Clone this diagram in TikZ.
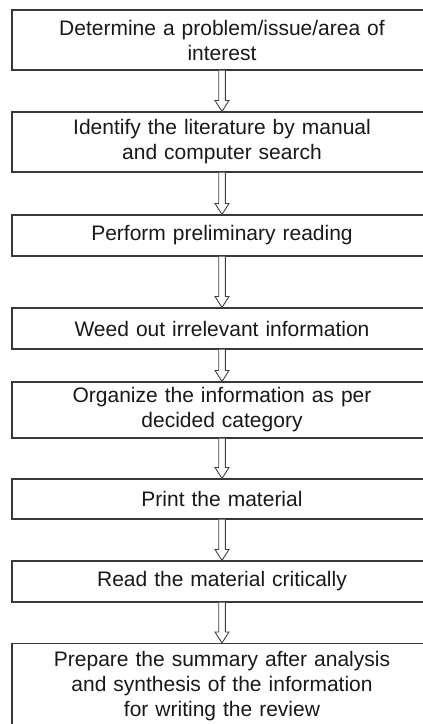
\documentclass[tikz,border=0pt]{standalone}
\usepackage{fontspec}
\setmainfont{Liberation Sans}
\usetikzlibrary{calc}

\tikzset{
  stepbox/.style={draw=black!78, line width=1.1pt, fill=white,
    minimum width=420pt, text width=400pt, align=center,
    inner sep=0pt, text=black!90,
    font=\fontsize{21}{25}\selectfont},
  arrowline/.style={draw=black!75, line width=0.9pt, fill=white, line join=miter}
}

% hollow block arrow from the bottom of one box to the top of the next
\newcommand\hollowarrow[2]{%
  \draw[arrowline] let \p1=(#1.south), \p2=(#2.north) in
    (\x1-3.3pt,\y1) -- (\x1-3.3pt,\y2+11pt) -- (\x1-7pt,\y2+11pt) --
    (\x1,\y2) -- (\x1+7pt,\y2+11pt) -- (\x1+3.3pt,\y2+11pt) --
    (\x1+3.3pt,\y1);}

\begin{document}
\begin{tikzpicture}[x=1pt, y=-1pt]
  \useasboundingbox (0,0) rectangle (423,724);
  \clip (0,0) rectangle (423,724);

  \node[stepbox, minimum height=60pt] (s1) at (222,40)
    {Determine a problem/issue/area of\\interest};
  \node[stepbox, minimum height=60pt] (s2) at (222,142)
    {Identify the literature by manual\\and computer search};
  \node[stepbox, minimum height=41pt] (s3) at (222,235.5)
    {Perform preliminary reading};
  \node[stepbox, minimum height=41pt] (s4) at (222,328.5)
    {Weed out irrelevant information};
  \node[stepbox, minimum height=56pt] (s5) at (222,410)
    {Organize the information as per\\decided category};
  \node[stepbox, minimum height=40pt] (s6) at (222,499)
    {Print the material};
  \node[stepbox, minimum height=41pt] (s7) at (222,581.5)
    {Read the material critically};
  \node[stepbox, minimum height=86pt, anchor=north] (s8) at (222,643)
    {Prepare the summary after analysis\\and synthesis of the information\\for writing the review\\[4pt]};

  \hollowarrow{s1}{s2}
  \hollowarrow{s2}{s3}
  \hollowarrow{s3}{s4}
  \hollowarrow{s4}{s5}
  \hollowarrow{s5}{s6}
  \hollowarrow{s6}{s7}
  \hollowarrow{s7}{s8}
\end{tikzpicture}
\end{document}
